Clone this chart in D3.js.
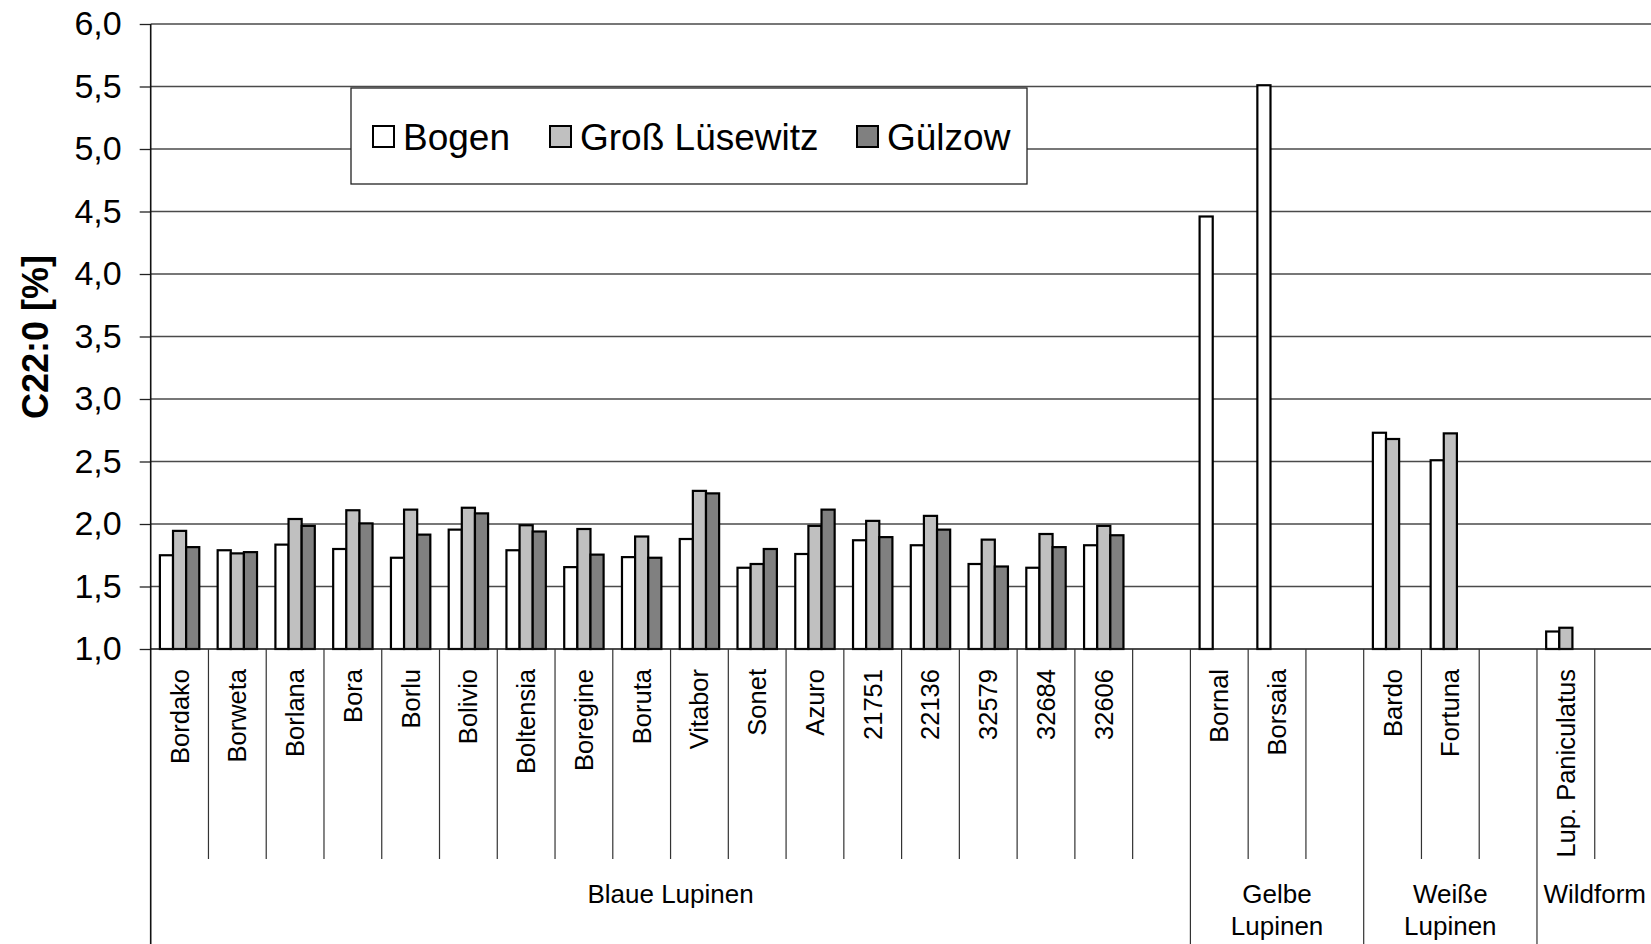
<!DOCTYPE html>
<html>
<head>
<meta charset="utf-8">
<script src="https://cdn.jsdelivr.net/npm/d3@7"></script>
<style>
  html, body { margin: 0; padding: 0; background: #fff; }
  svg { display: block; font-family: "Liberation Sans", Arial, sans-serif; }
</style>
</head>
<body>
<svg id="chart" width="1651" height="944"></svg>
<script>
// ---- data ----
const categories = ["Bordako","Borweta","Borlana","Bora","Borlu","Bolivio","Boltensia","Boregine","Boruta","Vitabor","Sonet","Azuro","21751","22136","32579","32684","32606","","Bornal","Borsaia","","Bardo","Fortuna","","Lup. Paniculatus",""];
const seriesNames = ["Bogen","Groß Lüsewitz","Gülzow"];
const bogen   = [1.75,1.79,1.835,1.80,1.73,1.955,1.79,1.655,1.735,1.88,1.65,1.76,1.87,1.83,1.68,1.65,1.83,null,4.46,5.51,null,2.73,2.51,null,1.14,null];
const grossL  = [1.945,1.765,2.04,2.11,2.115,2.13,1.99,1.96,1.90,2.265,1.68,1.985,2.025,2.065,1.875,1.92,1.985,null,null,null,null,2.68,2.725,null,1.17,null];
const guelzow = [1.815,1.775,1.985,2.005,1.915,2.085,1.94,1.755,1.73,2.245,1.80,2.115,1.895,1.955,1.66,1.815,1.91,null,null,null,null,null,null,null,null,null];
const groupNames  = [["Blaue Lupinen"],["Gelbe","Lupinen"],["Weiße","Lupinen"],["Wildform"]];
const groupStarts = [0,18,21,24];
const groupSizes  = [18,3,3,2];
const yTicks = [1.0,1.5,2.0,2.5,3.0,3.5,4.0,4.5,5.0,5.5,6.0];
const yTitle = "C22:0 [%]";

(function () {
// ---- layout ----
const svg = d3.select("#chart");
const pL = 150.7, pR = 1652.5, pT = 24, pB = 649;
const fills = ["#ffffff","#c0c0c0","#808080"];
const seriesData = [bogen, grossL, guelzow];

const x0 = d3.scaleBand().domain(d3.range(categories.length)).range([pL, pR]).padding(0);
const bw = x0.bandwidth();
const x1 = d3.scaleBand().domain(d3.range(3)).range([bw*0.7/4.4, bw*3.7/4.4]).padding(0);
const y = d3.scaleLinear().domain([1,6]).range([pB, pT]);
const fmt = v => d3.format(".1f")(v).replace(".", ",");

// gridlines
svg.append("g").selectAll("line").data(yTicks.filter(t => t > 1)).join("line")
  .attr("x1", pL).attr("x2", 1651)
  .attr("y1", d => y(d)).attr("y2", d => y(d))
  .attr("stroke", "#4a4a4a").attr("stroke-width", 1.3);

// y axis
const yAxis = d3.axisLeft(y).tickValues(yTicks).tickFormat(fmt).tickSize(11).tickPadding(18);
const gy = svg.append("g").attr("transform", `translate(${pL},0)`).call(yAxis);
gy.select(".domain").remove();
gy.selectAll(".tick line").attr("stroke", "#222").attr("stroke-width", 1.3);
gy.selectAll(".tick text").attr("font-size", 34).attr("fill", "#000")
  .attr("font-family", '"Liberation Sans", Arial, sans-serif');
svg.append("line").attr("x1", pL).attr("x2", pL).attr("y1", pT).attr("y2", 944)
  .attr("stroke", "#111").attr("stroke-width", 1.6);

// y title
svg.append("text").attr("transform", `translate(35,337) rotate(-90)`)
  .attr("text-anchor", "middle").attr("dominant-baseline", "central")
  .attr("font-size", 36).attr("font-weight", "bold").text(yTitle);

// bars
const gBars = svg.append("g");
seriesData.forEach((vals, si) => {
  gBars.append("g").selectAll("rect")
    .data(vals.map((v, i) => ({v, i})).filter(d => d.v != null))
    .join("rect")
    .attr("x", d => x0(d.i) + x1(si))
    .attr("width", x1.bandwidth())
    .attr("y", d => y(d.v))
    .attr("height", d => pB - y(d.v))
    .attr("fill", fills[si]).attr("stroke", "#000").attr("stroke-width", 2.2);
});

// x baseline
svg.append("line").attr("x1", pL).attr("x2", 1651).attr("y1", pB).attr("y2", pB)
  .attr("stroke", "#111").attr("stroke-width", 1.6);

// category separators
const groupBounds = new Set(groupStarts.concat([categories.length]));
svg.append("g").selectAll("line").data(d3.range(1, categories.length + 1)).join("line")
  .attr("x1", i => i < categories.length ? x0(i) : pR)
  .attr("x2", i => i < categories.length ? x0(i) : pR)
  .attr("y1", pB).attr("y2", i => groupBounds.has(i) ? 944 : 859)
  .attr("stroke", "#333").attr("stroke-width", 1.2);

// category labels
svg.append("g").selectAll("text").data(categories.map((c, i) => ({c, i})).filter(d => d.c)).join("text")
  .attr("transform", d => `translate(${x0(d.i) + bw/2},669) rotate(-90)`)
  .attr("text-anchor", "end").attr("dominant-baseline", "central")
  .attr("font-size", 25.5).text(d => d.c);

// group labels
groupNames.forEach((lines, gi) => {
  const cx = x0(groupStarts[gi]) + bw * groupSizes[gi] / 2;
  const t = svg.append("text").attr("text-anchor", "middle").attr("font-size", 26);
  lines.forEach((ln, li) => {
    t.append("tspan").attr("x", cx).attr("y", 903 + li * 32).text(ln);
  });
});

// legend
const lg = svg.append("g");
lg.append("rect").attr("x", 351).attr("y", 88).attr("width", 676).attr("height", 96)
  .attr("fill", "#fff").attr("stroke", "#222").attr("stroke-width", 1.3);
const legX = [373, 550, 857];
seriesNames.forEach((n, i) => {
  lg.append("rect").attr("x", legX[i]).attr("y", 126).attr("width", 21).attr("height", 21)
    .attr("fill", fills[i]).attr("stroke", "#000").attr("stroke-width", 2);
  lg.append("text").attr("x", legX[i] + 30).attr("y", 150).attr("font-size", 37).text(n);
});
})();
</script>
</body>
</html>
